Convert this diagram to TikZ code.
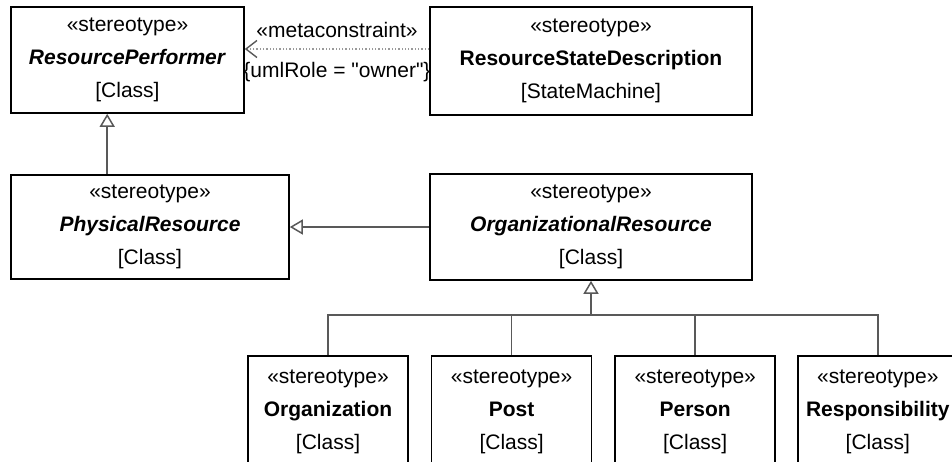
\documentclass[tikz,border=0pt]{standalone}
\usepackage{fontspec}
\setmainfont{Liberation Sans}[Ligatures=TeXOff]
\usetikzlibrary{positioning,arrows.meta}

\tikzset{
  umlbox/.style={draw, line width=1.6pt, align=center, inner sep=0pt},
  kidbox/.style={umlbox, minimum width=160pt, minimum height=112pt},
  conn/.style={draw=black!65, line width=1.5pt},
  gen/.style={conn, -{Triangle[open, length=13pt, width=15pt, fill=white]}},
  dep/.style={draw=black!40, line width=1.3pt, dotted, -{Straight Barb[length=11pt, width=17pt, line width=1.4pt, color=black!65]}}
}

\begin{document}
\begin{tikzpicture}[x=1pt, y=1pt, font=\fontsize{21}{33}\selectfont]
\useasboundingbox (0,0) rectangle (952,-461);
\node[umlbox, minimum width=233pt, minimum height=106pt] (RP) at (127.5,-60) {«stereotype»\\\textbf{\textit{ResourcePerformer}}\\{[Class]}};
\node[umlbox, minimum width=322pt, minimum height=108pt] (RSD) at (591,-61) {«stereotype»\\\textbf{ResourceStateDescription}\\{[StateMachine]}};
\node[umlbox, minimum width=278pt, minimum height=104pt] (PR) at (150,-227) {«stereotype»\\\textbf{\textit{PhysicalResource}}\\{[Class]}};
\node[umlbox, minimum width=322pt, minimum height=106pt] (OR) at (591,-227) {«stereotype»\\\textbf{\textit{OrganizationalResource}}\\{[Class]}};
\node[kidbox] (Org) at (328,-412) {«stereotype»\\\textbf{Organization}\\{[Class]}};
\node[kidbox, right=22pt of Org] (Post) {«stereotype»\\\textbf{Post}\\{[Class]}};
\node[kidbox, right=22pt of Post] (Person) {«stereotype»\\\textbf{Person}\\{[Class]}};
\node[kidbox, right=21pt of Person] (Resp) {«stereotype»\\\textbf{Responsibility}\\{[Class]}};

% metaconstraint
\coordinate (rsdIn) at ([yshift=12pt]RSD.west);
\draw[dep] (rsdIn) -- (rsdIn -| RP.east)
  node[midway, above=10pt, inner sep=1pt] (mcLbl) {«metaconstraint»}
  node[midway, below=12pt, inner sep=1pt] (roleLbl) {\{umlRole = "owner"\}};

% generalizations
\coordinate (prTop) at ([xshift=97pt]PR.north west);
\draw[gen] (prTop) -- (prTop |- RP.south);
\draw[gen] (OR.west) -- (PR.east);
\coordinate (jn) at ([yshift=-34pt]OR.south);
\draw[conn] (Org.north) |- (jn);
\draw[conn] (Post.north) |- (jn);
\draw[conn] (Person.north) |- (jn);
\draw[conn] (Resp.north) |- (jn);
\draw[gen] (jn) -- (OR.south);
\end{tikzpicture}
\end{document}
